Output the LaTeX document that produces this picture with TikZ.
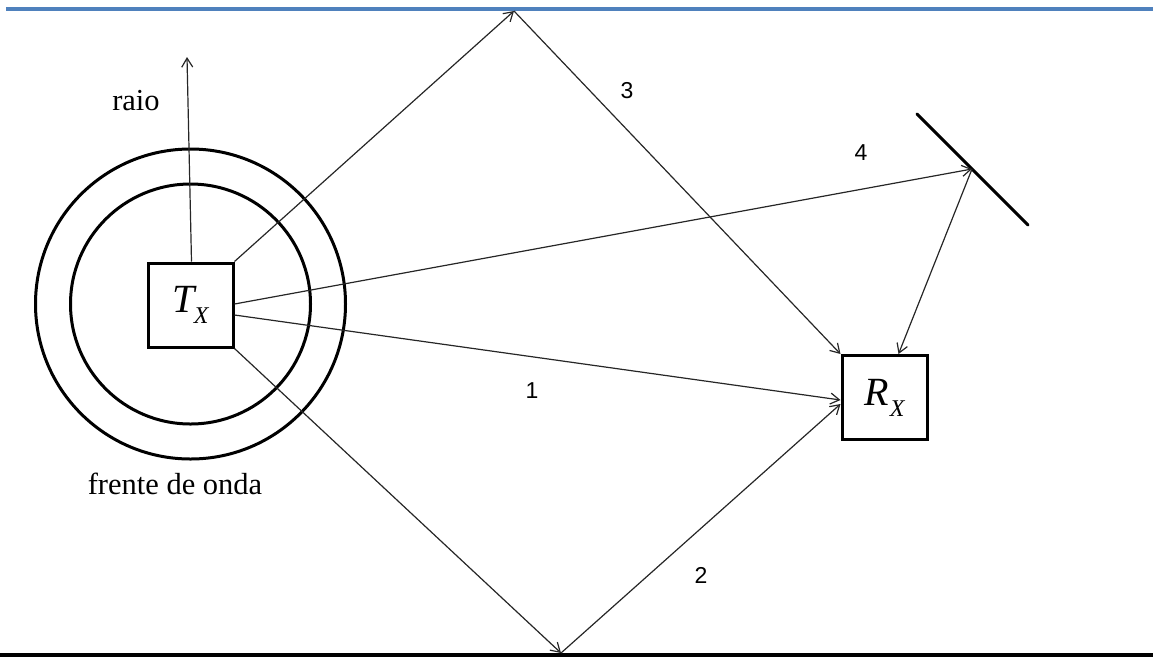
\documentclass[tikz,border=0pt]{standalone}
\usepackage{fontspec}
\setmainfont{Liberation Serif}
\newfontfamily\arial{Liberation Sans}
\usetikzlibrary{arrows.meta}
\definecolor{topblue}{RGB}{79,129,189}
\tikzset{
  ray/.style={line width=1.2pt, draw=black!85, -{Straight Barb[length=9pt,width=11pt,line width=1.2pt]}},
  box/.style={draw, line width=3pt, minimum width=85pt, minimum height=84pt, inner sep=0pt},
  wave/.style={draw, line width=3pt},
  serlbl/.style={font=\fontsize{30.5}{33}\selectfont, anchor=base, inner sep=0pt},
  numlbl/.style={font=\arial\fontsize{23}{26}\selectfont, anchor=base, inner sep=0pt},
  boxtxt/.style={font=\fontsize{40}{41}\selectfont\itshape}
}
\newcommand{\subX}{\raisebox{-11pt}{\fontsize{24}{25}\selectfont\itshape X}}
\begin{document}
\begin{tikzpicture}[x=1pt,y=-1pt]
\useasboundingbox (0,0) rectangle (1153,657);
% reflecting planes
\draw[topblue, line width=4pt] (6,9) -- (1153,9);
\draw[black, line width=4pt] (0,655) -- (1153,655);
% transmitter and receiver
\node[box, boxtxt] (tx) at (190.5,305) {T\kern-1pt\subX};
\node[box, boxtxt] (rx) at (884.5,397.5) {R\kern1pt\subX};
% wave fronts
\draw[wave] (190.5,304) circle[radius=155pt];
\draw[wave] (190.5,304) circle[radius=120pt];
% mirror
\coordinate (m1) at (917,114);
\coordinate (m2) at (1028,225);
\coordinate (m) at (972,169);
\draw[line width=3pt, line cap=round] (m1) -- (m2);
% reflection points
\coordinate (top) at (514,11);
\coordinate (bot) at (561,653);
\coordinate (raiotip) at (187,57);
% rays
\draw[ray] ([xshift=1pt]tx.north) -- (raiotip);
\draw[ray] (tx.north east) -- (top);
\draw[ray] (top) -- (rx.north west);
\draw[ray] ([yshift=1pt]tx.east) -- (m);
\draw[ray] (m) -- ([xshift=14pt]rx.north);
\draw[ray] ([yshift=-10pt]tx.east) -- ([yshift=-2.5pt]rx.west);
\draw[ray] (tx.south east) -- (bot);
\draw[ray] (bot) -- ([yshift=-6.5pt]rx.west);
% labels
\node[serlbl] (lraio) at (136,110) {raio};
\node[serlbl] (lfrente) at (175,494) {frente de onda};
\node[numlbl] (l3) at (627,98) {3};
\node[numlbl] (l4) at (861,160) {4};
\node[numlbl] (l1) at (532,398) {1};
\node[numlbl] (l2) at (701,583) {2};
\end{tikzpicture}
\end{document}
